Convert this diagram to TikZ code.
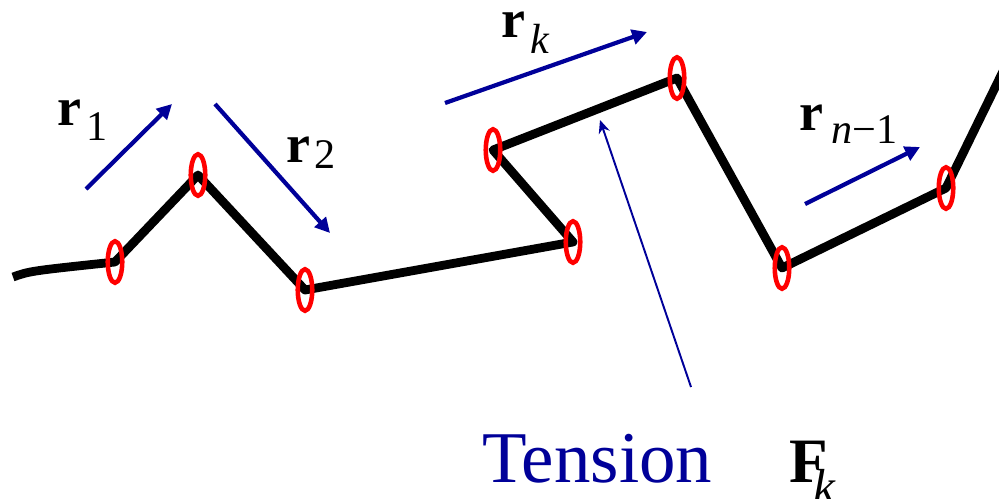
\documentclass[tikz,border=0pt]{standalone}
\usepackage{fontspec}
\setmainfont{Liberation Serif}
\usetikzlibrary{arrows.meta,shapes.geometric}
\definecolor{navy}{RGB}{0,0,153}
\tikzset{
  chain/.style={line width=5pt, line join=round},
  bead/.style={draw=red, line width=2.6pt, ellipse, inner sep=0pt,
    minimum width=0.29cm, minimum height=0.83cm},
  vec/.style={navy, line width=2.4pt, -{Triangle[length=8.5pt,width=8.5pt]}},
  pull/.style={navy, line width=1.1pt, -{Stealth[length=7.5pt,width=6.5pt]}},
  sym/.style={anchor=base west, inner sep=0pt, font=\fontsize{30.7}{32}\selectfont\bfseries},
  idx/.style={anchor=base west, inner sep=0pt, font=\fontsize{24}{26}\selectfont}
}
\begin{document}
\begin{tikzpicture}[x=0.02cm, y=-0.02cm]
\useasboundingbox (0,0) rectangle (999,498);
\clip (0,0) rectangle (999,498);
% polymer chain
\coordinate (start) at (13,277);
\coordinate (p1) at (115,262);
\coordinate (p2) at (198,175);
\coordinate (p3) at (305,290);
\coordinate (p4) at (573,242);
\coordinate (p5) at (493,150);
\coordinate (p6) at (677,78);
\coordinate (p7) at (782,268);
\coordinate (p8) at (946,188);
\coordinate (stop) at (1010,57);
\draw[chain] (start) .. controls (30,271) .. (p1) -- (p2) -- (p3) -- (p4) -- (p5) -- (p6) -- (p7) -- (p8) -- (stop);
\foreach \p in {p1,p2,p3,p4,p5,p6,p7,p8}
  \node[bead] at (\p) {};
% bond vectors
\coordinate (a1) at (86,189);  \coordinate (b1) at (172,104);
\coordinate (a2) at (215,104); \coordinate (b2) at (330,233);
\coordinate (ak) at (445,103); \coordinate (bk) at (647,32);
\coordinate (an) at (805,204); \coordinate (bn) at (920,147);
\draw[vec] (a1) -- (b1);
\draw[vec] (a2) -- (b2);
\draw[vec] (ak) -- (bk);
\draw[vec] (an) -- (bn);
\node[sym] (r1) at (57,125) {r};
\node[idx] (r1i) at (86,140) {1};
\node[sym] (r2) at (286,162) {r};
\node[idx] (r2i) at (314,168) {2};
\node[sym] (rk) at (501,37) {r};
\node[idx] (rki) at (530,53) {\itshape k};
\node[sym] (rn) at (799,130) {r};
\node[idx] (rni) at (831,143) {\itshape n\upshape −1};
% tension
\coordinate (t0) at (691,387);
\coordinate (t1) at (600,120);
\draw[pull] (t0) -- (t1);
\node[anchor=base west, inner sep=0pt, navy, font=\fontsize{41.5}{44}\selectfont] (ten) at (482,482) {Tension};
\node[anchor=base west, inner sep=0pt, font=\fontsize{36}{38}\selectfont\bfseries] (F) at (789,482) {F};
\node[anchor=base west, inner sep=0pt, font=\fontsize{28}{30}\selectfont\itshape] (Fk) at (813,503) {k};
\end{tikzpicture}
\end{document}
